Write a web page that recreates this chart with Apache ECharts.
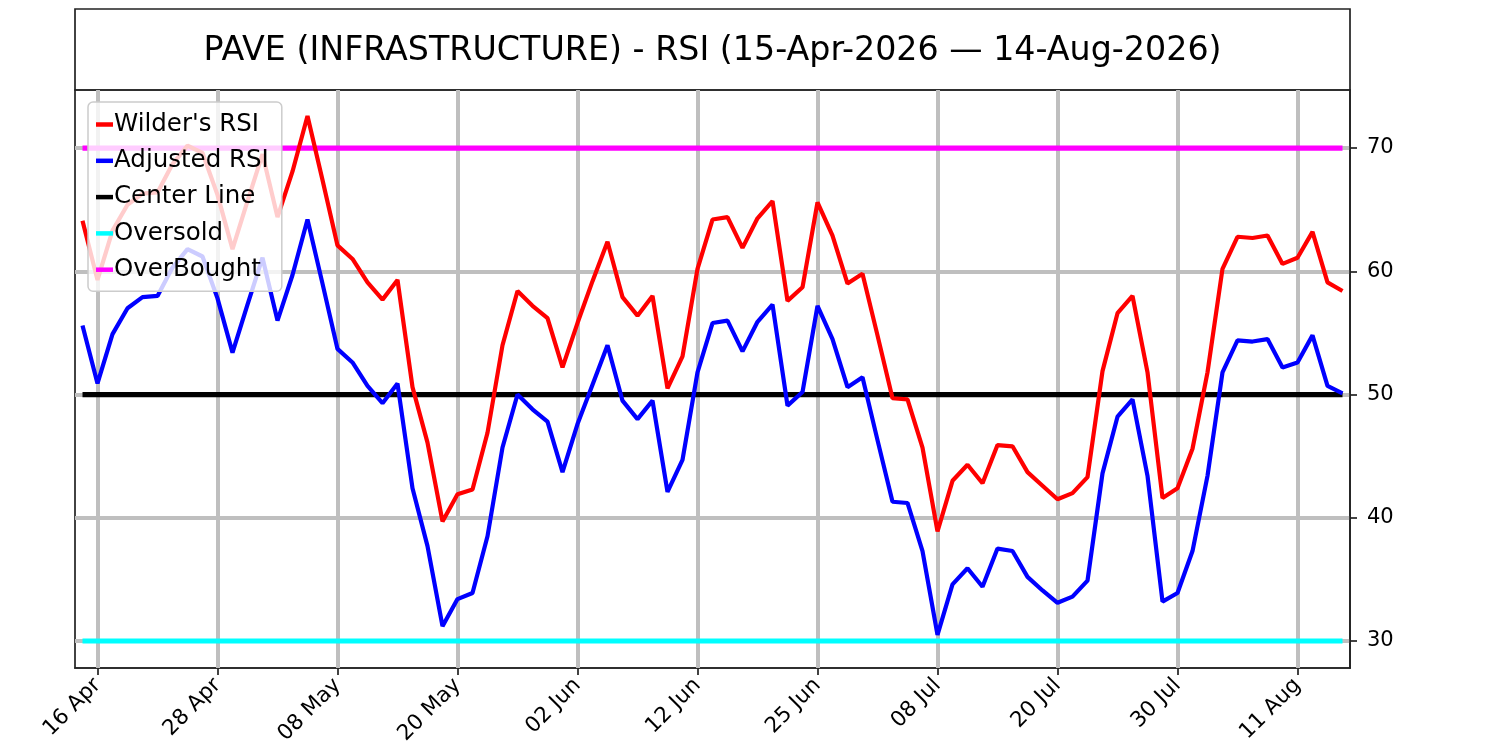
<!DOCTYPE html>
<html>
<head>
<meta charset="utf-8">
<title>PAVE (INFRASTRUCTURE) - RSI</title>
<script src="https://cdn.jsdelivr.net/npm/echarts@6/dist/echarts.min.js"></script>
<style>
  html, body { margin: 0; padding: 0; background: #fff; }
  #chart { width: 1500px; height: 750px; }
</style>
</head>
<body>
<div id="chart"></div>
<script>
// trading days 15-Apr-2026 .. 14-Aug-2026
const dates = [
  '15 Apr', '16 Apr', '17 Apr', '20 Apr', '21 Apr', '22 Apr', '23 Apr', '24 Apr', '27 Apr', '28 Apr', '29 Apr', '30 Apr',
  '01 May', '04 May', '05 May', '06 May', '07 May', '08 May', '11 May', '12 May', '13 May', '14 May', '15 May',
  '18 May', '19 May', '20 May', '21 May', '22 May', '26 May', '27 May', '28 May', '29 May',
  '01 Jun', '02 Jun', '03 Jun', '04 Jun', '05 Jun', '08 Jun', '09 Jun', '10 Jun', '11 Jun', '12 Jun',
  '15 Jun', '16 Jun', '17 Jun', '18 Jun', '22 Jun', '23 Jun', '24 Jun', '25 Jun', '26 Jun', '29 Jun', '30 Jun',
  '01 Jul', '02 Jul', '06 Jul', '07 Jul', '08 Jul', '09 Jul', '10 Jul', '13 Jul', '14 Jul', '15 Jul', '16 Jul', '17 Jul',
  '20 Jul', '21 Jul', '22 Jul', '23 Jul', '24 Jul', '27 Jul', '28 Jul', '29 Jul', '30 Jul', '31 Jul',
  '03 Aug', '04 Aug', '05 Aug', '06 Aug', '07 Aug', '10 Aug', '11 Aug', '12 Aug', '13 Aug', '14 Aug'
];

const wilderRsi = [
  64.1, 59.3, 63.3, 65.4, 66.3, 66.4, 68.7, 70.2, 69.6, 66.2, 61.8, 65.7,
  69.5, 64.4, 68.1, 72.6, 67.4, 62.1, 61.0, 59.1, 57.7, 59.3, 50.6,
  46.1, 39.7, 41.9, 42.3, 46.9, 54.0, 58.4, 57.2, 56.2,
  52.2, 55.8, 59.2, 62.4, 57.9, 56.4, 58.0, 50.5, 53.1, 60.2,
  64.2, 64.4, 61.9, 64.3, 65.7, 57.6, 58.7, 65.6, 62.9, 59.0, 59.8,
  54.8, 49.7, 49.6, 45.7, 38.9, 43.0, 44.3, 42.8, 45.9, 45.8, 43.7, 42.6,
  41.5, 42.0, 43.3, 51.9, 56.6, 58.0, 51.8, 41.6, 42.4, 45.6,
  51.8, 60.2, 62.8, 62.7, 62.9, 60.6, 61.1, 63.2, 59.1, 58.4
];

const adjustedRsi = [
  55.6, 50.9, 54.9, 57.0, 57.9, 58.0, 60.3, 61.8, 61.2, 57.8, 53.4, 57.3,
  61.1, 56.0, 59.7, 64.2, 59.0, 53.7, 52.6, 50.7, 49.3, 50.9, 42.4,
  37.7, 31.2, 33.4, 33.9, 38.5, 45.7, 50.0, 48.8, 47.8,
  43.7, 47.6, 50.8, 54.0, 49.5, 48.0, 49.5, 42.1, 44.7, 51.8,
  55.8, 56.0, 53.5, 55.9, 57.3, 49.1, 50.2, 57.2, 54.5, 50.6, 51.4,
  46.3, 41.3, 41.2, 37.3, 30.5, 34.6, 35.9, 34.4, 37.5, 37.3, 35.2, 34.1,
  33.1, 33.6, 34.9, 43.6, 48.2, 49.6, 43.4, 33.2, 33.9, 37.3,
  43.4, 51.8, 54.4, 54.3, 54.5, 52.2, 52.6, 54.8, 50.7, 50.1
];

const centerLevel = 50;
const oversoldLevel = 30;
const overboughtLevel = 70;

const tickDates = ['16 Apr', '28 Apr', '08 May', '20 May', '02 Jun', '12 Jun', '25 Jun', '08 Jul', '20 Jul', '30 Jul', '11 Aug'];
const yTicks = [30, 40, 50, 60, 70];

const FONT = "'DejaVu Sans', 'Liberation Sans', sans-serif";
const GRID_GRAY = '#bfbfbf';
const SPINE = '#222';

const chart = echarts.init(document.getElementById('chart'), null, { renderer: 'canvas' });

function isTickDate(idx, value) {
  return tickDates.indexOf(dates[idx]) >= 0;
}

const option = {
  animation: false,
  backgroundColor: '#fff',
  textStyle: { fontFamily: FONT },
  title: {
    text: 'PAVE (INFRASTRUCTURE) - RSI (15-Apr-2026 \u2014 14-Aug-2026)',
    left: 712.5,
    top: 35,
    padding: 0,
    textAlign: 'center',
    textStyle: { fontFamily: FONT, fontSize: 33.3, fontWeight: 'normal', color: '#000' }
  },
  graphic: [
    {
      type: 'rect',
      shape: { x: 75, y: 9, width: 1275, height: 81 },
      style: { fill: 'none', stroke: SPINE, lineWidth: 1.7 },
      silent: true
    }
  ],
  legend: {
    orient: 'vertical',
    left: 88,
    top: 102,
    padding: [10, 13, 9, 8],
    itemGap: 11.3,
    itemWidth: 17,
    itemHeight: 4.5,
    icon: 'rect',
    backgroundColor: 'rgba(255,255,255,0.8)',
    borderColor: '#cccccc',
    borderWidth: 1.5,
    borderRadius: 5,
    selectedMode: false,
    data: ["Wilder's RSI", 'Adjusted RSI', 'Center Line', 'Oversold', 'OverBought'],
    textStyle: { fontFamily: FONT, fontSize: 24.5, color: '#000', padding: [0, 0, 0, -4] }
  },
  grid: {
    left: 75,
    right: 150,
    top: 90,
    bottom: 82,
    show: true,
    borderColor: SPINE,
    borderWidth: 1.7,
    backgroundColor: 'transparent'
  },
  xAxis: {
    type: 'category',
    data: dates,
    boundaryGap: true,
    axisLine: { show: true, lineStyle: { color: SPINE, width: 1.7 } },
    axisTick: {
      show: true,
      alignWithLabel: true,
      interval: isTickDate,
      length: 7,
      lineStyle: { color: SPINE, width: 1.7 }
    },
    axisLabel: {
      interval: isTickDate,
      rotate: 45,
      margin: 14,
      fontFamily: FONT,
      fontSize: 21.5,
      color: '#000'
    },
    splitLine: { show: false }
  },
  yAxis: {
    type: 'value',
    position: 'right',
    min: 27.81,
    max: 74.71,
    axisLine: { show: true, lineStyle: { color: SPINE, width: 1.7 } },
    axisTick: {
      show: true,
      customValues: yTicks,
      length: 7,
      lineStyle: { color: SPINE, width: 1.7 }
    },
    axisLabel: {
      customValues: yTicks,
      margin: 17,
      fontFamily: FONT,
      fontSize: 21,
      color: '#000'
    },
    splitLine: { show: true, lineStyle: { color: GRID_GRAY, width: 4 } }
  },
  series: [
    {
      name: 'OverBought',
      type: 'line',
      data: dates.map(() => overboughtLevel),
      showSymbol: false,
      symbol: 'none',
      z: 2,
      color: '#ff00ff',
      lineStyle: { color: '#ff00ff', width: 5.2 },
      // vertical grid lines at the labelled dates
      markLine: {
        z: 1,
        silent: true,
        symbol: 'none',
        label: { show: false },
        emphasis: { disabled: true },
        lineStyle: { color: GRID_GRAY, width: 4, type: 'solid' },
        data: tickDates.map(d => ({ xAxis: d }))
      }
    },
    {
      name: 'Oversold',
      type: 'line',
      data: dates.map(() => oversoldLevel),
      showSymbol: false,
      symbol: 'none',
      z: 2,
      color: '#00ffff',
      lineStyle: { color: '#00ffff', width: 5.2 }
    },
    {
      name: 'Center Line',
      type: 'line',
      data: dates.map(() => centerLevel),
      showSymbol: false,
      symbol: 'none',
      z: 2,
      color: '#000000',
      lineStyle: { color: '#000000', width: 5.2 }
    },
    {
      name: 'Adjusted RSI',
      type: 'line',
      data: adjustedRsi,
      showSymbol: false,
      symbol: 'none',
      z: 3,
      color: '#0000ff',
      lineStyle: { color: '#0000ff', width: 4.2 }
    },
    {
      name: "Wilder's RSI",
      type: 'line',
      data: wilderRsi,
      showSymbol: false,
      symbol: 'none',
      z: 3,
      color: '#ff0000',
      lineStyle: { color: '#ff0000', width: 4.2 }
    }
  ]
};

chart.setOption(option);
</script>
</body>
</html>
